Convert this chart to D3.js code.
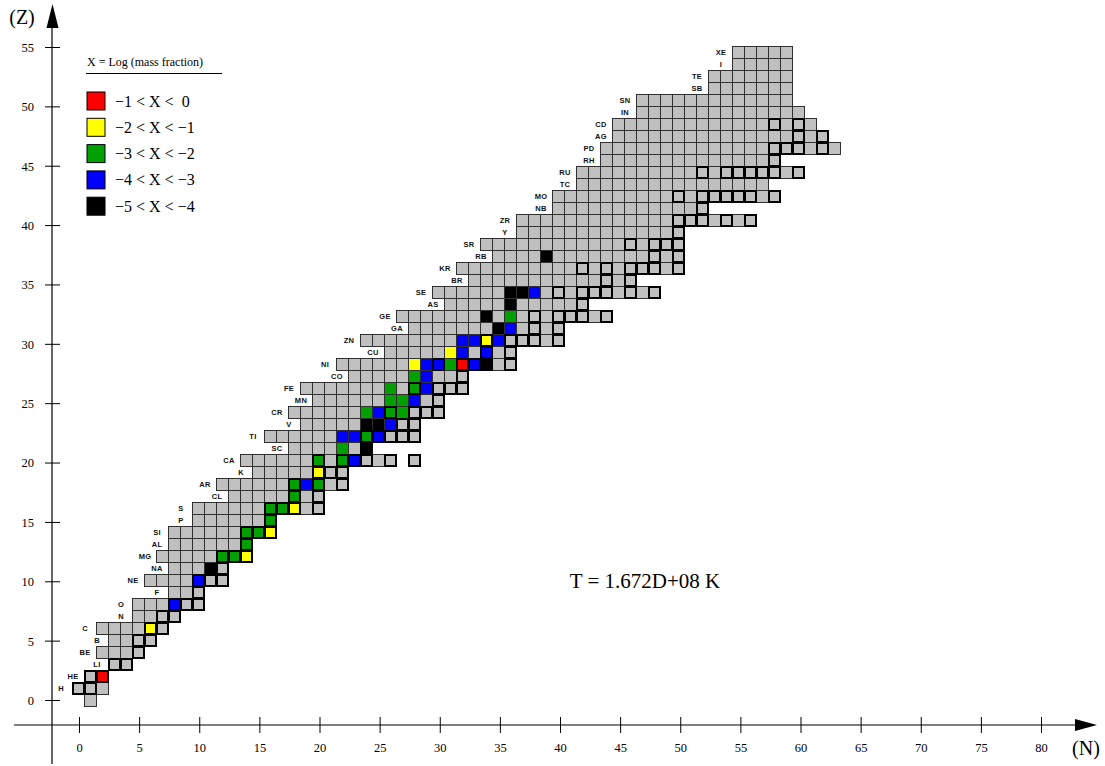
<!DOCTYPE html>
<html>
<head>
<meta charset="utf-8">
<script src="https://cdn.jsdelivr.net/npm/d3@7"></script>
<style>
  html, body { margin: 0; padding: 0; background: #fff; }
  svg { display: block; }
  .serif { font-family: "Liberation Serif", "Times New Roman", serif; fill: #000; }
  .sym { font-family: "Liberation Sans", Arial, sans-serif; font-size: 7.5px; font-weight: bold; fill: #111; }
</style>
</head>
<body>
<svg id="chart" width="1105" height="766"></svg>
<script>
// element symbols by Z (Z=0 is the free neutron, no label)
var symbols = ["", "H", "HE", "LI", "BE", "B", "C", "N", "O", "F", "NE", "NA", "MG", "AL", "SI", "P", "S",
  "CL", "AR", "K", "CA", "SC", "TI", "V", "CR", "MN", "FE", "CO", "NI", "CU", "ZN", "GA", "GE", "AS",
  "SE", "BR", "KR", "RB", "SR", "Y", "ZR", "NB", "MO", "TC", "RU", "RH", "PD", "AG", "CD", "IN", "SN",
  "SB", "TE", "I", "XE"];

// lightest / heaviest neutron number in the network, by Z
var nMin = [1, 0, 1, 3, 2, 3, 2, 5, 5, 8, 6, 8, 7, 8, 8, 10, 10, 13, 12, 15, 14, 18, 16, 19, 18, 20,
  19, 23, 22, 26, 24, 28, 27, 31, 30, 33, 32, 35, 34, 37, 37, 40, 40, 42, 42, 44, 44, 45, 45, 47, 47,
  53, 53, 55, 55];
var nMax = [1, 2, 2, 4, 5, 6, 7, 8, 10, 10, 12, 12, 14, 14, 16, 16, 20, 20, 22, 22, 26, 24, 28, 28, 30,
  30, 32, 32, 36, 36, 40, 40, 44, 42, 48, 46, 50, 50, 50, 50, 56, 52, 58, 57, 60, 58, 63, 62, 61, 60,
  59, 59, 59, 59, 59];

// detached cells [Z, N]
var extraCells = [[20, 28]];

// stable nuclei (thick boxes): neutron numbers by Z
var stableN = [[], [0, 1], [1, 2], [3, 4], [5], [5, 6], [6, 7], [7, 8], [8, 9, 10], [10], [10, 11, 12],
  [12], [12, 13, 14], [14], [14, 15, 16], [16], [16, 17, 18, 20], [18, 20], [18, 20, 22], [20, 21, 22],
  [20, 22, 23, 24, 26, 28], [24], [24, 25, 26, 27, 28], [27, 28], [26, 28, 29, 30], [30],
  [28, 30, 31, 32], [32], [30, 32, 33, 34, 36], [34, 36], [34, 36, 37, 38, 40], [38, 40],
  [38, 40, 41, 42, 44], [42], [40, 42, 43, 44, 46, 48], [44, 46], [42, 44, 46, 47, 48, 50], [48, 50],
  [46, 48, 49, 50], [50], [50, 51, 52, 54, 56], [52], [50, 52, 53, 54, 55, 56, 58], [],
  [52, 54, 55, 56, 57, 58, 60], [58], [58, 59, 60, 62], [60, 62], [58, 60], [], [], [], [], [], []];

// coloured abundances [Z, N, class]; class 0 = -1<X<0 ... 4 = -5<X<-4
var abundant = [
  [2, 2, 0], [6, 6, 1], [8, 8, 3], [10, 10, 3], [11, 11, 4],
  [12, 12, 2], [12, 13, 2], [12, 14, 1], [13, 14, 2], [14, 14, 2], [14, 15, 2], [14, 16, 1],
  [15, 16, 2], [16, 16, 2], [16, 17, 2], [16, 18, 1], [17, 18, 2], [18, 18, 2], [18, 19, 3],
  [18, 20, 2], [19, 20, 1], [20, 20, 2], [20, 22, 2], [20, 23, 3], [21, 22, 2], [21, 24, 4],
  [22, 22, 3], [22, 23, 3], [22, 24, 2], [22, 25, 3], [23, 24, 4], [23, 25, 4], [23, 26, 3],
  [24, 24, 2], [24, 25, 3], [24, 26, 2], [24, 27, 2], [25, 26, 2], [25, 27, 2], [25, 28, 3],
  [26, 26, 2], [26, 28, 2], [26, 29, 3], [27, 28, 2], [27, 29, 3],
  [28, 28, 1], [28, 29, 3], [28, 30, 3], [28, 31, 2], [28, 32, 0], [28, 33, 3], [28, 34, 4],
  [29, 31, 1], [29, 32, 3], [29, 34, 3], [30, 32, 3], [30, 33, 3], [30, 34, 1], [30, 35, 3],
  [31, 35, 4], [31, 36, 3], [32, 34, 4], [32, 36, 2], [33, 36, 4],
  [34, 36, 4], [34, 37, 4], [34, 38, 3], [37, 39, 4]
];

var legendColors = ["#ff0000", "#ffff00", "#00a000", "#0000ff", "#000000"];
var legendLabels = ["\u22121 < X <  0", "\u22122 < X < \u22121", "\u22123 < X < \u22122",
  "\u22124 < X < \u22123", "\u22125 < X < \u22124"];
var xTickValues = [0, 5, 10, 15, 20, 25, 30, 35, 40, 45, 50, 55, 60, 65, 70, 75, 80];
var yTickValues = [0, 5, 10, 15, 20, 25, 30, 35, 40, 45, 50, 55];

var svg = d3.select("#chart");

// cell grid scales (12px per nucleon) and axis scales
var x = d3.scaleLinear().domain([0, 80]).range([78, 1038]);
var y = d3.scaleLinear().domain([0, 55]).range([700, 40]);
var xa = d3.scaleLinear().domain([0, 80]).range([79, 1041]);
var ya = d3.scaleLinear().domain([0, 55]).range([700, 47]);
var half = 6;

// ---- axes ----
var axisY0 = 725, axisX0 = 52;

svg.append("line").attr("x1", 14).attr("x2", 1080).attr("y1", axisY0).attr("y2", axisY0)
  .attr("stroke", "#000").attr("stroke-width", 1.2);
svg.append("path").attr("d", "M1097,725 L1075,719 L1075,731 Z").attr("fill", "#000");
svg.append("line").attr("x1", axisX0).attr("x2", axisX0).attr("y1", 22).attr("y2", 764)
  .attr("stroke", "#000").attr("stroke-width", 1.2);
svg.append("path").attr("d", "M52.5,4 L46.5,28 L58.5,28 Z").attr("fill", "#000");

var gx = svg.append("g").attr("transform", "translate(0," + axisY0 + ")")
  .call(d3.axisBottom(xa).tickValues(xTickValues).tickSize(0).tickPadding(0));
gx.select(".domain").remove();
gx.selectAll(".tick line").attr("y1", -8).attr("y2", 8).attr("stroke", "#000");
gx.selectAll(".tick text").attr("class", "serif").attr("y", 27).attr("dy", 0)
  .style("font-size", "12.5px");

var gy = svg.append("g").attr("transform", "translate(" + axisX0 + ",0)")
  .call(d3.axisLeft(ya).tickValues(yTickValues).tickSize(0).tickPadding(0));
gy.select(".domain").remove();
gy.selectAll(".tick line").attr("x1", -7).attr("x2", 8).attr("stroke", "#000");
gy.selectAll(".tick text").attr("class", "serif").attr("x", -18).attr("dy", "0.35em")
  .style("font-size", "12.5px");

svg.append("text").attr("class", "serif").attr("x", 22).attr("y", 24)
  .attr("text-anchor", "middle").style("font-size", "20px").text("(Z)");
svg.append("text").attr("class", "serif").attr("x", 1086).attr("y", 755)
  .attr("text-anchor", "middle").style("font-size", "20px").text("(N)");

// ---- nuclide cells ----
var cells = [];
nMin.forEach(function (lo, z) {
  d3.range(lo, nMax[z] + 1).forEach(function (n) { cells.push({ z: z, n: n }); });
});
extraCells.forEach(function (c) { cells.push({ z: c[0], n: c[1] }); });

var colorOf = {};
abundant.forEach(function (a) { colorOf[a[0] + "_" + a[1]] = legendColors[a[2]]; });

var gc = svg.append("g").attr("shape-rendering", "crispEdges");
gc.selectAll("rect.cell")
  .data(cells)
  .join("rect")
  .attr("class", "cell")
  .attr("x", function (d) { return x(d.n) - half + 0.5; })
  .attr("y", function (d) { return y(d.z) - half + 0.5; })
  .attr("width", 2 * half)
  .attr("height", 2 * half)
  .attr("fill", function (d) { return colorOf[d.z + "_" + d.n] || "#c0c0c0"; })
  .attr("stroke", "#303030")
  .attr("stroke-width", 1);

// stable boxes on top
var stables = [];
stableN.forEach(function (list, z) {
  list.forEach(function (n) { stables.push({ z: z, n: n }); });
});
gc.selectAll("rect.stable")
  .data(stables)
  .join("rect")
  .attr("class", "stable")
  .attr("x", function (d) { return x(d.n) - half + 1; })
  .attr("y", function (d) { return y(d.z) - half + 1; })
  .attr("width", 2 * half - 1)
  .attr("height", 2 * half - 1)
  .attr("fill", "none")
  .attr("stroke", "#000")
  .attr("stroke-width", 2);

// element labels left of each row
svg.append("g").selectAll("text")
  .data(symbols.map(function (s, z) { return { s: s, z: z }; }).filter(function (d) { return d.s; }))
  .join("text")
  .attr("class", "sym")
  .attr("x", function (d) { return x(nMin[d.z]) - half - 11; })
  .attr("y", function (d) { return y(d.z); })
  .attr("dy", "0.35em")
  .attr("text-anchor", "middle")
  .style("letter-spacing", "0.3px")
  .text(function (d) { return d.s; });

// ---- legend ----
var lg = svg.append("g");
lg.append("text").attr("class", "serif").attr("x", 87).attr("y", 66)
  .style("font-size", "12px").text("X = Log (mass fraction)");
lg.append("line").attr("x1", 86).attr("x2", 222).attr("y1", 73.5).attr("y2", 73.5)
  .attr("stroke", "#000").attr("stroke-width", 1);
var items = lg.selectAll("g.item")
  .data(legendColors)
  .join("g")
  .attr("class", "item")
  .attr("transform", function (d, i) { return "translate(87," + (92 + i * 26.3) + ")"; });
items.append("rect").attr("width", 18).attr("height", 18)
  .attr("fill", function (d) { return d; }).attr("stroke", "#000").attr("stroke-width", 1);
items.append("text").attr("class", "serif").attr("x", 28).attr("y", 14.5)
  .style("font-size", "16px").style("white-space", "pre")
  .text(function (d, i) { return legendLabels[i]; });

// temperature note
svg.append("text").attr("class", "serif").attr("x", 645).attr("y", 588)
  .attr("text-anchor", "middle").style("font-size", "21px").text("T = 1.672D+08 K");
</script>
</body>
</html>
